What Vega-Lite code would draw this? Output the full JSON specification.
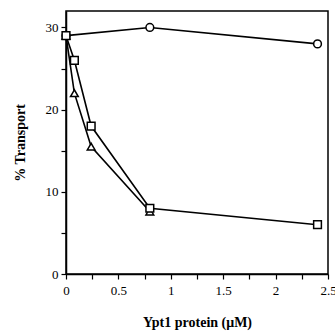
{
  "$schema": "https://vega.github.io/schema/vega-lite/v6.json",
  "autosize": "none",
  "width": 262,
  "height": 263,
  "padding": {"left": 66, "top": 11, "right": 7, "bottom": 57},
  "background": "white",
  "config": {
    "view": {"stroke": "black", "strokeWidth": 1.5},
    "font": "Liberation Serif",
    "axis": {
      "domainColor": "black",
      "domainWidth": 1.5,
      "tickColor": "black",
      "tickWidth": 1.2,
      "tickSize": 5,
      "grid": false,
      "labelFlush": false,
      "labelOverlap": false,
      "labelFont": "Liberation Serif",
      "labelFontSize": 13,
      "labelColor": "black",
      "titleFont": "Liberation Serif",
      "titleFontSize": 14,
      "titleFontWeight": "bold",
      "titleColor": "black"
    }
  },
  "data": {
    "values": [
      {"x": 0, "y": 29, "series": "circle"},
      {"x": 0.8, "y": 30, "series": "circle"},
      {"x": 2.4, "y": 28, "series": "circle"},
      {"x": 0, "y": 29, "series": "triangle"},
      {"x": 0.08, "y": 22, "series": "triangle"},
      {"x": 0.24, "y": 15.5, "series": "triangle"},
      {"x": 0.8, "y": 7.6, "series": "triangle"},
      {"x": 0, "y": 29, "series": "square"},
      {"x": 0.08, "y": 26, "series": "square"},
      {"x": 0.24, "y": 18, "series": "square"},
      {"x": 0.8, "y": 8, "series": "square"},
      {"x": 2.4, "y": 6, "series": "square"}
    ]
  },
  "encoding": {
    "x": {
      "field": "x", "type": "quantitative",
      "scale": {"domain": [0, 2.5], "nice": false},
      "axis": {
        "title": "Ypt1 protein (μM)",
        "values": [0, 0.25, 0.5, 0.75, 1, 1.25, 1.5, 1.75, 2, 2.25, 2.5],
        "labelExpr": "(datum.value * 2) % 1 == 0 ? format(datum.value, '') : ''",
        "labelPadding": 5,
        "titlePadding": 18
      }
    },
    "y": {
      "field": "y", "type": "quantitative",
      "scale": {"domain": [0, 32], "nice": false},
      "axis": {
        "title": "% Transport",
        "values": [0, 5, 10, 15, 20, 25, 30],
        "labelExpr": "datum.value % 10 == 0 ? datum.label : ''",
        "labelPadding": 3,
        "titlePadding": 18
      }
    }
  },
  "layer": [
    {
      "mark": {"type": "line", "color": "black", "strokeWidth": 1.6},
      "encoding": {"detail": {"field": "series"}}
    },
    {
      "mark": {"type": "point", "filled": false, "fill": "white", "fillOpacity": 1, "stroke": "black", "strokeWidth": 1.5, "size": 60, "opacity": 1},
      "encoding": {
        "shape": {
          "field": "series",
          "scale": {"domain": ["circle", "triangle", "square"], "range": ["circle", "triangle-up", "square"]},
          "legend": null
        }
      }
    }
  ]
}
